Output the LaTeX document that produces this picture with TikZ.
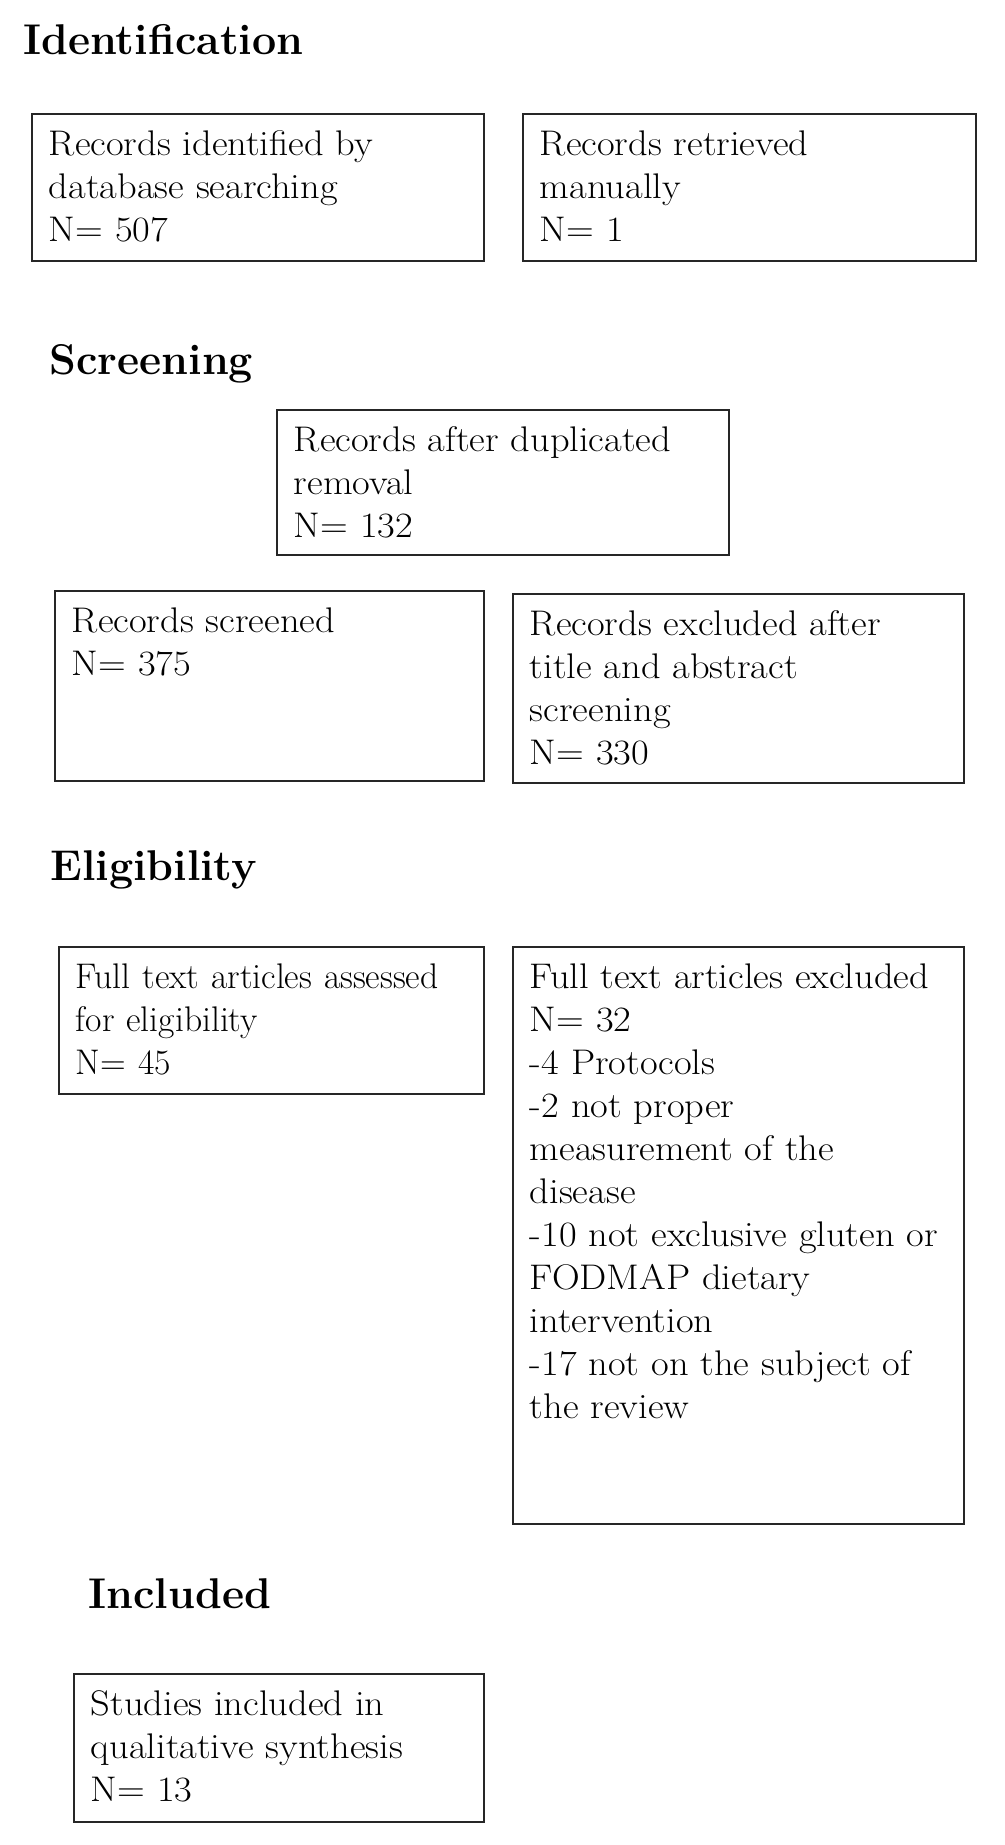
\documentclass[tikz,border=0pt]{standalone}
\usepackage{fontspec}
\newfontfamily\recface{Latin Modern Roman}[FakeStretch=1.08]
\newfontfamily\recnarrowface{Latin Modern Roman}
\newcommand{\recfont}{\recface\fontsize{17.8}{21.5}\selectfont}
\newcommand{\recnarrow}{\recnarrowface\fontsize{17.8}{21.5}\selectfont}
\newcommand{\phasefont}{\fontsize{21.5}{25}\selectfont\bfseries}
\tikzset{
  phase/.style={anchor=base west, inner sep=0pt, font=\phasefont},
  rec/.style={draw=black!85, line width=0.9pt, anchor=north west, align=left,
    inner xsep=8.5pt, inner ysep=0pt, text height=21pt, font=\recfont}
}
\begin{document}
\begin{tikzpicture}[x=0.5pt, y=-0.5pt]
  \useasboundingbox (0,0) rectangle (1005,1845);

  \node[phase] (ident) at (23,55) {Identification};
  \node[rec, text width=209pt, text depth=52.5pt] (db) at (31,113)
    {Records identified by\\database searching\\N= 507};
  \node[rec, text width=209.5pt, text depth=52.5pt] (manual) at (522,113)
    {Records retrieved\\manually\\N= 1};

  \node[phase] (screen) at (49,375) {Screening};
  \node[rec, text width=209pt, text depth=51.5pt] (dup) at (276,409)
    {Records after duplicated\\removal\\N= 132};
  \node[rec, text width=197.5pt, text depth=74pt] (screened) at (54,590)
    {Records screened\\N= 375};
  \node[rec, text width=208.5pt, text depth=73.5pt] (excl) at (512,593)
    {Records excluded after\\title and abstract\\screening\\N= 330};

  \node[phase] (elig) at (50,880) {Eligibility};
  \node[rec, font=\recnarrow, text width=195.5pt, text depth=52.5pt] (full) at (58,946)
    {Full text articles assessed\\for eligibility\\N= 45};
  \node[rec, text width=208.5pt, text depth=267.5pt] (fullexcl) at (512,946)
    {Full text articles excluded\\N= 32\\-4 Protocols\\-2 not proper\\measurement of the\\disease\\-10 not exclusive gluten or\\FODMAP dietary\\intervention\\-17 not on the subject of\\the review};

  \node[phase] (incl) at (88,1608) {Included};
  \node[rec, text width=188pt, text depth=53pt] (studies) at (73,1673)
    {Studies included in\\qualitative synthesis\\N= 13};
\end{tikzpicture}
\end{document}
